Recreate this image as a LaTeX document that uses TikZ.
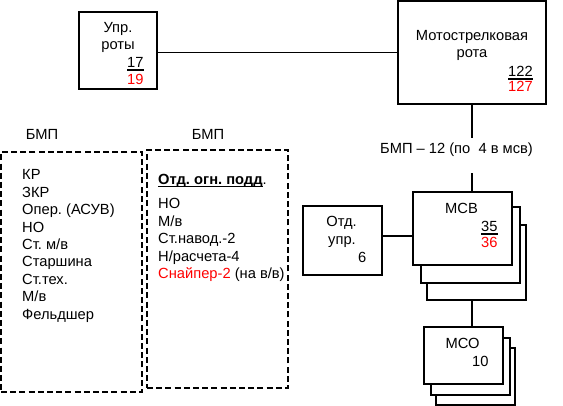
\documentclass[tikz,border=0pt]{standalone}
\usepackage{fontspec}
\setmainfont{Liberation Sans}
\frenchspacing
\newcommand\ulbar[1]{\setbox0=\hbox{#1}\rlap{\rule[-1.8pt]{\wd0}{1.1pt}}\box0}
\begin{document}
\begin{tikzpicture}[x=1pt,y=-1pt,
  box/.style={draw, line width=1.7pt, fill=white, inner sep=0pt, shape=rectangle},
  dbox/.style={draw, line width=1.7pt, dash pattern=on 6pt off 3.2pt, inner sep=0pt, shape=rectangle},
  conn/.style={line width=1.5pt},
  frac/.style={line width=1.1pt},
  t/.style={inner sep=0pt, font=\fontsize{14.7}{17}\selectfont\frenchspacing},
  tc/.style={t, anchor=base},
  tl/.style={t, anchor=base west},
  rt/.style={text=red}]
\useasboundingbox (0,0) rectangle (563,406);

% boxes
\node[box, minimum width=78pt, minimum height=77pt] (upr) at (118,50.5) {};
\node[box, minimum width=148pt, minimum height=103pt] (msr) at (472,52.5) {};
\node[box, minimum width=99pt, minimum height=75pt] (mcb3) at (476.5,262.5) {};
\node[box, minimum width=99pt, minimum height=76pt] (mcb2) at (470.5,245) {};
\node[box, minimum width=99pt, minimum height=73pt] (mcb) at (462.5,228.5) {};
\node[box, minimum width=79pt, minimum height=69pt] (otd) at (342.5,240.5) {};
\node[box, minimum width=79pt, minimum height=57pt] (mco3) at (475.5,376.5) {};
\node[box, minimum width=79pt, minimum height=57pt] (mco2) at (470.5,366.5) {};
\node[box, minimum width=79pt, minimum height=57pt] (mco) at (463.5,355.5) {};
\node[dbox, minimum width=141pt, minimum height=240pt] (dl) at (71.5,272) {};
\node[dbox, minimum width=141pt, minimum height=238pt] (dr) at (217.5,269) {};

% texts in boxes
\node[tc] (upr1) at (118,33) {Упр.};
\node[tc] (upr2) at (118,50) {роты};
\node[tl] (upr3) at (127,68) {17};
\node[tl, rt] (upr4) at (127,85) {19};
\draw[frac] ([yshift=-2pt]upr3.base west) -- ([yshift=-2pt]upr3.base east);

\node[tc] (msr1) at (472,41) {Мотострелковая};
\node[tc] (msr2) at (472,58) {рота};
\node[tl] (msr3) at (508,77) {122};
\node[tl, rt] (msr4) at (508,92) {127};
\draw[frac] ([yshift=-2pt]msr3.base west) -- ([yshift=-2pt]msr3.base east);

\node[tc] (lbl) at (456.5,154) {БМП – 12 (по~ 4 в мсв)};

\node[tc] (mcb1) at (461.5,214) {МСВ};
\node[tl] (mcbn) at (481,232) {35};
\node[tl, rt] (mcbr) at (481,248) {36};
\draw[frac] ([yshift=-2pt]mcbn.base west) -- ([yshift=-2pt]mcbn.base east);

\node[tc] (otd1) at (341.5,227) {Отд.};
\node[tc] (otd2) at (342,245) {упр.};
\node[tl] (otd3) at (358,263) {6};

\node[tc] (mco1) at (462.5,349) {МСО};
\node[tl] (mco4) at (472,367) {10};

% dashed box contents
\node[tc] (bmpl) at (42,140) {БМП};
\node[tc] (bmpr) at (208,140) {БМП};

\node[tl] (l1) at (22,180) {КР};
\node[tl] (l2) at (22,197.4) {ЗКР};
\node[tl] (l3) at (22,214.8) {Опер. (АСУВ)};
\node[tl] (l4) at (22,232.2) {НО};
\node[tl] (l5) at (22,249.6) {Ст. м/в};
\node[tl] (l6) at (22,267) {Старшина};
\node[tl] (l7) at (22,284.4) {Ст.тех.};
\node[tl] (l8) at (22,301.8) {М/в};
\node[tl] (l9) at (22,319.2) {Фельдшер};

\node[tl] (r0) at (158,185) {\ulbar{\bfseries Отд. огн. подд}.};
\node[tl] (r1) at (158,209) {НО};
\node[tl] (r2) at (158,226.4) {М/в};
\node[tl] (r3) at (158,243.8) {Ст.навод.-2};
\node[tl] (r4) at (158,261.2) {Н/расчета-4};
\node[tl] (r5) at (158,278.6) {\textcolor{red}{Снайпер-2} (на в/в)};

% connectors
\draw[conn] (upr.east |- msr.west) -- (msr.west);
\draw[conn] (msr.south) -- ([yshift=5pt]msr.south |- lbl.north);
\draw[conn] (msr.south |- mcb.north) -- ([yshift=-16pt]msr.south |- lbl.south);
\draw[conn] ([yshift=4.5pt]otd.east) -- ([yshift=4.5pt]otd.east -| mcb.west);
\draw[conn] (msr.south |- mcb3.south) -- (msr.south |- mco.north);
\end{tikzpicture}
\end{document}
